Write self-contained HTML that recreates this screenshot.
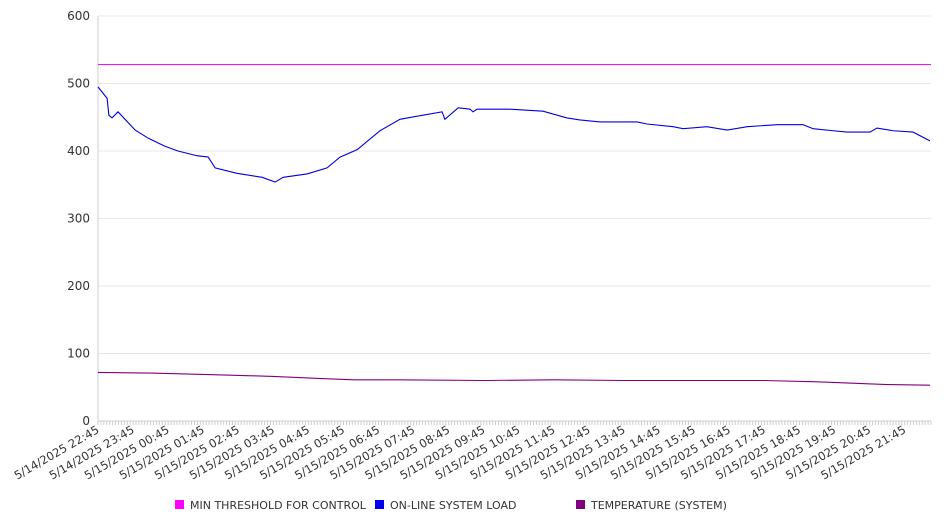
<!DOCTYPE html>
<html><head><meta charset="utf-8"><style>
body{margin:0;background:#fff;font-family:"DejaVu Sans","Liberation Sans",sans-serif;}
svg text{fill:#333;}
</style></head><body>
<svg id="chart" width="946" height="526" xmlns="http://www.w3.org/2000/svg"></svg>
<script>
const yTicks=[0,100,200,300,400,500,600];
const xLabels=["5/14/2025 22:45","5/14/2025 23:45","5/15/2025 00:45","5/15/2025 01:45","5/15/2025 02:45","5/15/2025 03:45","5/15/2025 04:45","5/15/2025 05:45","5/15/2025 06:45","5/15/2025 07:45","5/15/2025 08:45","5/15/2025 09:45","5/15/2025 10:45","5/15/2025 11:45","5/15/2025 12:45","5/15/2025 13:45","5/15/2025 14:45","5/15/2025 15:45","5/15/2025 16:45","5/15/2025 17:45","5/15/2025 18:45","5/15/2025 19:45","5/15/2025 20:45","5/15/2025 21:45"];
const thresholdValue=528;
const loadHours=[0,0.26,0.31,0.40,0.57,1.06,1.43,1.91,2.28,2.82,3.14,3.34,3.96,4.68,5.05,5.28,5.96,6.53,6.90,7.39,8.04,8.61,9.04,9.81,9.89,10.27,10.61,10.69,10.81,11.75,12.69,13.37,13.74,14.31,15.37,15.65,16.40,16.68,17.36,17.94,18.51,19.36,20.10,20.39,20.96,21.36,22.01,22.21,22.67,23.24,23.72];
const loadValues=[495,478,453,449,458,431,419,407,400,393,391,375,367,361,354,361,366,375,391,402,430,447,451,458,447,464,462,458,462,462,459,449,446,443,443,440,436,433,436,431,436,439,439,433,430,428,428,434,430,428,415];
const tempHours=[0,1.5,3,4.4,5,6.3,7.3,8.5,11,13,15,17,19,20.5,21.5,22.5,23.72];
const tempValues=[72,71,69,67,66,63,61,61,60,61,60,60,60,58,56,54,53];
const X0=98,X1=931,Y0=421,Y1=16,HMAX=23.75,VMAX=600;
const NS="http://www.w3.org/2000/svg";
const svg=document.getElementById('chart');
const xs=h=>X0+(X1-X0)*h/HMAX;
const ys=v=>Y0-(Y0-Y1)*v/VMAX;
function mk(t,a){const e=document.createElementNS(NS,t);for(const k in a)e.setAttribute(k,a[k]);svg.appendChild(e);return e;}
yTicks.forEach(v=>{
  const g=mk('line',{x1:X0,x2:X1,y1:ys(v),y2:ys(v),stroke:v===0?'#ccc':'#e8e8e8'});
  
  
  const t=mk('text',{x:90,y:ys(v)+4,'text-anchor':'end','font-size':12});
  t.textContent=v;
  
  
});
const ax=mk('line',{x1:X0,x2:X0,y1:Y1,y2:Y0,stroke:'#ccc'});


for(let m=0;m<=HMAX*60;m+=5){
  const tk=mk('line',{x1:xs(m/60),x2:xs(m/60),y1:Y0,y2:Y0+4,stroke:'#ccc'});
  
  
}
xLabels.forEach((l,i)=>{
  const x=xs(i)+2,y=432;
  const t=mk('text',{x:x,y:y,'text-anchor':'end','font-size':11.5,transform:`rotate(-30 ${x} ${y})`});
  t.textContent=l;
  
  
});
const th=mk('line',{x1:X0,x2:X1,y1:ys(thresholdValue),y2:ys(thresholdValue),stroke:'#e000e0','stroke-width':1});


const lp=mk('polyline',{points:loadHours.map((h,i)=>xs(h)+','+ys(loadValues[i])).join(' '),fill:'none',stroke:'#0000dd','stroke-width':1.1});


const tp=mk('polyline',{points:tempHours.map((h,i)=>xs(h)+','+ys(tempValues[i])).join(' '),fill:'none',stroke:'#800080','stroke-width':1.1});


const legend=[["MIN THRESHOLD FOR CONTROL","#ff00ff",175],["ON-LINE SYSTEM LOAD","#0000ee",375],["TEMPERATURE (SYSTEM)","#800080",576]];
legend.forEach(([n,c,x])=>{
  const r=mk('rect',{x:x,y:500,width:9,height:9,fill:c});
  
  
  const t=mk('text',{x:x+15,y:509,'font-size':11});
  t.textContent=n;
  
  
});
</script>
</body></html>
